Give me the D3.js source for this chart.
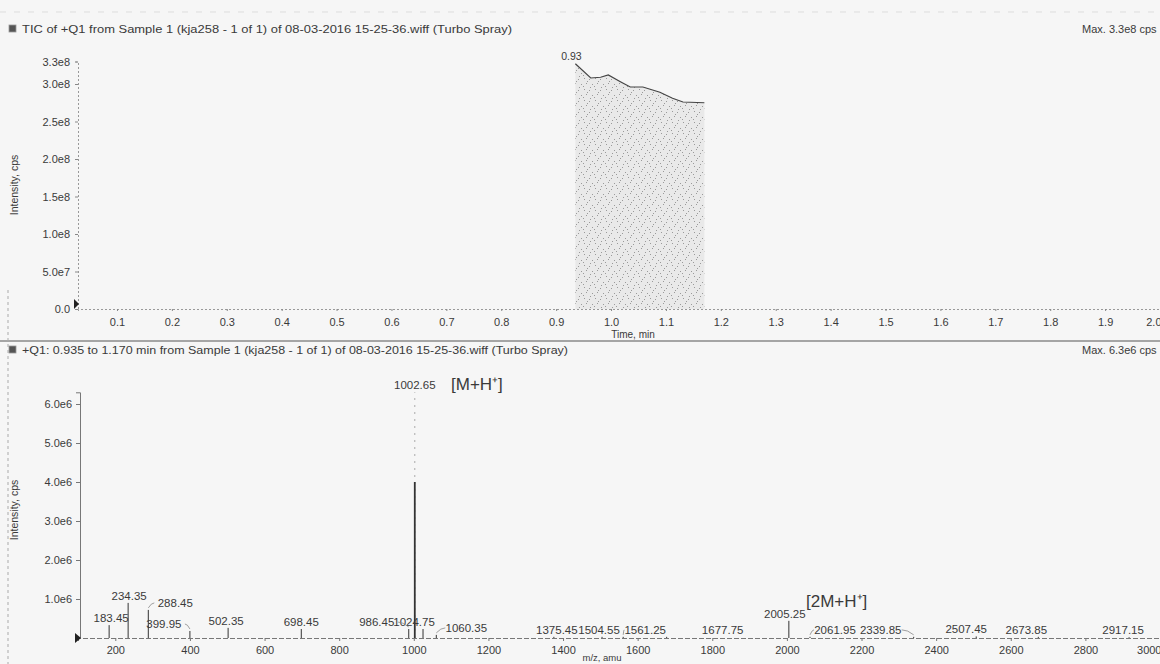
<!DOCTYPE html>
<html><head><meta charset="utf-8">
<script src="https://cdn.jsdelivr.net/npm/d3@7/dist/d3.min.js"></script>
<style>
html,body{margin:0;padding:0;background:#f6f6f6;}
svg{display:block;}
text{font-family:"Liberation Sans",Arial,sans-serif;fill:#3a3a3a;}
</style></head><body>
<svg id="c" width="1160" height="664"></svg>
<script>
// ---- Top panel: TIC ----
const ticTitle = "TIC of +Q1  from Sample 1 (kja258 - 1 of 1) of 08-03-2016 15-25-36.wiff (Turbo Spray)";
const ticMax = "Max. 3.3e8 cps";
const ticTime  = [0.935, 0.963, 0.981, 0.995, 1.017, 1.035, 1.058, 1.089, 1.112, 1.131, 1.17];
const ticValue = [3.27e8, 3.08e8, 3.09e8, 3.12e8, 3.03e8, 2.96e8, 2.96e8, 2.89e8, 2.81e8, 2.76e8, 2.75e8];
const ticApexLabel = "0.93";
const ticYTicks = [0, 5e7, 1e8, 1.5e8, 2e8, 2.5e8, 3e8, 3.3e8];
const ticYLabels = ["0.0", "5.0e7", "1.0e8", "1.5e8", "2.0e8", "2.5e8", "3.0e8", "3.3e8"];
const timeTicks = [0.1, 0.2, 0.3, 0.4, 0.5, 0.6, 0.7, 0.8, 0.9, 1.0, 1.1, 1.2, 1.3, 1.4, 1.5, 1.6, 1.7, 1.8, 1.9, 2.0];
const timeLabel = "Time, min";
const yLabel = "Intensity, cps";

// ---- Bottom panel: MS spectrum ----
const msTitle = "+Q1: 0.935 to 1.170 min from Sample 1 (kja258 - 1 of 1) of 08-03-2016 15-25-36.wiff (Turbo Spray)";
const msMax = "Max. 6.3e6 cps";
const peakMz = [183.45, 234.35, 288.45, 399.95, 502.35, 698.45, 986.45, 1002.65, 1024.75, 1060.35, 1375.45, 1504.55, 1561.25, 1677.75, 2005.25, 2061.95, 2339.85, 2507.45, 2673.85, 2917.15];
const peakIntensity = [0.33e6, 0.9e6, 0.72e6, 0.18e6, 0.26e6, 0.23e6, 0.23e6, 6.3e6, 0.23e6, 0.08e6, 0.03e6, 0.03e6, 0.03e6, 0.03e6, 0.44e6, 0.03e6, 0.03e6, 0.04e6, 0.03e6, 0.02e6];
const peakLabels = ["183.45", "234.35", "288.45", "399.95", "502.35", "698.45", "986.45", "1002.65", "1024.75", "1060.35", "1375.45", "1504.55", "1561.25", "1677.75", "2005.25", "2061.95", "2339.85", "2507.45", "2673.85", "2917.15"];
const mzTicks = [200, 400, 600, 800, 1000, 1200, 1400, 1600, 1800, 2000, 2200, 2400, 2600, 2800, 3000];
const msYTicks = [1e6, 2e6, 3e6, 4e6, 5e6, 6e6];
const msYLabels = ["1.0e6", "2.0e6", "3.0e6", "4.0e6", "5.0e6", "6.0e6"];
const mzLabel = "m/z, amu";
const noteMH = "[M+H\u207A]";
const note2MH = "[2M+H\u207A]";

// layout-only: horizontal label shifts (px) as printed by the software
const labelDx = [2, 1, 27, -26, -2, 0, -32, 0, -9, 30, 3, -3, 22, 56, -4, 25, -33, -10, -12, -6];

const svg = d3.select("#c");
const ink = "#3c3c3c";
const FONT = "Liberation Sans, Arial, sans-serif";

function header(y, title, maxText, w) {
  svg.append("rect").attr("x", 9).attr("y", y - 8).attr("width", 7).attr("height", 7)
    .attr("fill", "#555").attr("stroke", "#999").attr("stroke-width", 0.8);
  svg.append("text").attr("x", 22).attr("y", y).attr("font-size", 11)
    .attr("textLength", w).attr("lengthAdjust", "spacingAndGlyphs").text(title);
  svg.append("text").attr("x", 1082).attr("y", y).attr("font-size", 11).text(maxText);
}

// frame lines
svg.append("line").attr("x1", 0).attr("x2", 1160).attr("y1", 12).attr("y2", 12).attr("stroke", "#ddd").attr("stroke-dasharray", "6,8");
svg.append("line").attr("x1", 0).attr("x2", 1160).attr("y1", 341).attr("y2", 341).attr("stroke", "#8a8a8a").attr("stroke-width", 1.6);
svg.append("line").attr("x1", 8).attr("x2", 8).attr("y1", 290).attr("y2", 664).attr("stroke", "#aaa").attr("stroke-dasharray", "3,3");

// ===== TOP =====
header(33, ticTitle, ticMax, 490);
const xT = d3.scaleLinear().domain([0.029, 2.0]).range([78, 1160]);
const yT = d3.scaleLinear().domain([0, 3.3e8]).range([309, 61.5]);

// stipple pattern
const defs = svg.append("defs");
const pat = defs.append("pattern").attr("id", "stip").attr("patternUnits", "userSpaceOnUse").attr("width", 11).attr("height", 11);
pat.append("rect").attr("width", 11).attr("height", 11).attr("fill", "#e9e9e9");
[[1,1],[6,2],[3,6],[9,7],[0,9],[7,10],[4,4]].forEach(p => pat.append("rect").attr("x", p[0]).attr("y", p[1]).attr("width", 1).attr("height", 1).attr("fill", "#9a9a9a"));

const ticData = ticTime.map((t, i) => ({t, v: ticValue[i]}));
svg.append("path").datum(ticData)
  .attr("d", d3.area().x(d => xT(d.t)).y0(yT(0)).y1(d => yT(d.v)))
  .attr("fill", "url(#stip)");
svg.append("path").datum(ticData)
  .attr("d", d3.line().x(d => xT(d.t)).y(d => yT(d.v)))
  .attr("fill", "none").attr("stroke", "#444").attr("stroke-width", 1.2);
svg.append("text").attr("x", xT(ticTime[0]) - 4).attr("y", yT(ticValue[0]) - 4)
  .attr("text-anchor", "middle").attr("font-size", 10.5).text(ticApexLabel);

// axes top
const gyT = svg.append("g").attr("transform", "translate(78,0)")
  .call(d3.axisLeft(yT).tickValues(ticYTicks).tickFormat((d, i) => ticYLabels[i]).tickSize(3).tickPadding(5));
const gxT = svg.append("g").attr("transform", `translate(0,${yT(0)})`)
  .call(d3.axisBottom(xT).tickValues(timeTicks).tickFormat(d3.format(".1f")).tickSize(2).tickPadding(7));
[gyT, gxT].forEach(g => {
  g.select(".domain").attr("stroke", "#999").attr("stroke-dasharray", "2,2");
  g.selectAll(".tick line").attr("stroke", "#888");
  g.selectAll(".tick text").attr("font-size", 11).attr("fill", ink).attr("font-family", FONT);
});
gxT.selectAll(".tick text").filter(d => d === 2.0).attr("text-anchor", "end").attr("dx", 1);
svg.append("path").attr("d", `M74,${yT(0)-10} L79,${yT(0)-5} L74,${yT(0)}Z`).attr("fill", "#222");
svg.append("text").attr("x", xT(1.04)).attr("y", 338).attr("text-anchor", "middle").attr("font-size", 10).text(timeLabel);
svg.append("text").attr("transform", "translate(18,185) rotate(-90)").attr("text-anchor", "middle").attr("font-size", 10.5).text(yLabel);

// ===== BOTTOM =====
header(354, msTitle, msMax, 546);
const xB = d3.scaleLinear().domain([100, 3000]).range([78, 1160]);
const yB = d3.scaleLinear().domain([0, 6.3e6]).range([638, 392.3]);

const gyB = svg.append("g").attr("transform", "translate(80,0)")
  .call(d3.axisLeft(yB).tickValues(msYTicks).tickFormat((d, i) => msYLabels[i]).tickSize(4).tickPadding(4));
const gxB = svg.append("g").attr("transform", `translate(0,${yB(0)})`)
  .call(d3.axisBottom(xB).tickValues(mzTicks).tickFormat(d3.format("d")).tickSize(3).tickPadding(5));
gyB.select(".domain").attr("stroke", "#777");
gxB.select(".domain").attr("stroke", "#777").attr("stroke-dasharray", "5,2");
[gyB, gxB].forEach(g => {
  g.selectAll(".tick line").attr("stroke", "#777");
  g.selectAll(".tick text").attr("font-size", 11).attr("fill", ink).attr("font-family", FONT);
});
gxB.selectAll(".tick text").filter(d => d === 3000).attr("text-anchor", "end").attr("dx", 1);
svg.append("path").attr("d", `M75,${yB(0)-5} L81,${yB(0)} L75,${yB(0)+5}Z`).attr("fill", "#222");

const fadeLevel = 4.0e6; // scan fades above this height
const peaks = peakMz.map((m, i) => ({m, v: peakIntensity[i], lab: peakLabels[i], dx: labelDx[i]}));
const pg = svg.append("g");
pg.selectAll("line.faint").data(peaks.filter(d => d.v > fadeLevel)).join("line").attr("class", "faint")
  .attr("x1", d => xB(d.m)).attr("x2", d => xB(d.m)).attr("y1", yB(0)).attr("y2", d => yB(d.v))
  .attr("stroke", "#aaa").attr("stroke-dasharray", "2,5");
pg.selectAll("line.stick").data(peaks).join("line").attr("class", "stick")
  .attr("x1", d => xB(d.m)).attr("x2", d => xB(d.m)).attr("y1", yB(0)).attr("y2", d => yB(Math.min(d.v, fadeLevel)))
  .attr("stroke", "#333").attr("stroke-width", d => d.v > fadeLevel ? 1.8 : 1);
pg.selectAll("text.pl").data(peaks).join("text").attr("class", "pl")
  .attr("x", d => xB(d.m) + d.dx).attr("y", d => yB(d.v) - 3)
  .attr("text-anchor", "middle").attr("font-size", 11.5).text(d => d.lab);
pg.selectAll("path.lead").data(peaks.filter(d => Math.abs(d.dx) > 15 && Math.abs(d.dx) < 40)).join("path").attr("class", "lead")
  .attr("d", d => {
    const x0 = xB(d.m), y0 = yB(d.v) - 2;
    const s = Math.sign(d.dx);
    const x1 = x0 + d.dx - s * 21;
    return `M${x0},${y0} Q${(x0 + x1) / 2},${y0 - 5} ${x1},${y0 - 5}`;
  })
  .attr("fill", "none").attr("stroke", "#888").attr("stroke-width", 0.8);

svg.append("text").attr("x", 602).attr("y", 661).attr("text-anchor", "middle").attr("font-size", 9.5).text(mzLabel);
svg.append("text").attr("transform", "translate(18,510) rotate(-90)").attr("text-anchor", "middle").attr("font-size", 10.5).text(yLabel);

// handwritten annotations
svg.append("text").attr("x", 451).attr("y", 390).attr("font-size", 17).attr("font-family", "DejaVu Sans").attr("fill", "#333").text(noteMH);
svg.append("text").attr("x", 806).attr("y", 607).attr("font-size", 17).attr("font-family", "DejaVu Sans").attr("fill", "#333").text(note2MH);
</script>
</body></html>
